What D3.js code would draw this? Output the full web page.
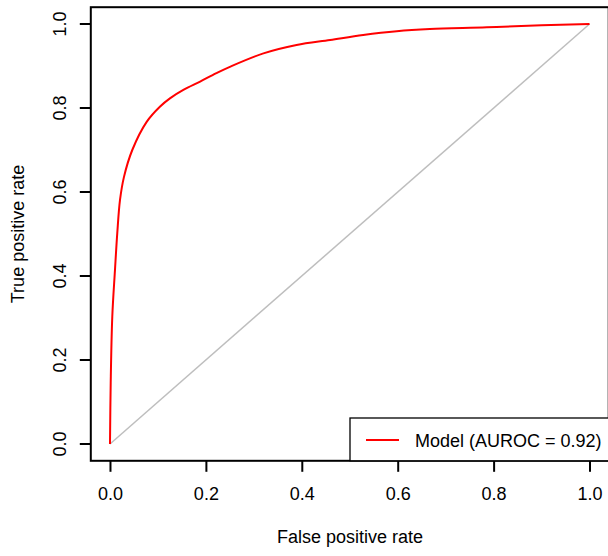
<!DOCTYPE html>
<html>
<head>
<meta charset="utf-8">
<script src="https://cdn.jsdelivr.net/npm/d3@7"></script>
<style>
  body { margin: 0; background: #fff; }
  svg { display: block; font-family: "Liberation Sans", Arial, sans-serif; }
</style>
</head>
<body>
<svg id="chart" width="608" height="556"></svg>
<script>
// ROC curve points
const fpr = [0, 0.0015, 0.0048, 0.0104, 0.0152, 0.0209, 0.0292, 0.0465, 0.0765, 0.104,
  0.125, 0.153, 0.188, 0.222, 0.25, 0.32, 0.389, 0.459, 0.528, 0.598, 0.667, 0.786, 0.9, 1];
const tpr = [0, 0.145, 0.303, 0.414, 0.502, 0.581, 0.636, 0.700, 0.767, 0.803,
  0.823, 0.843, 0.863, 0.883, 0.898, 0.930, 0.950, 0.962, 0.974, 0.983, 0.988, 0.992, 0.997, 1];
const ticks = [0, 0.2, 0.4, 0.6, 0.8, 1.0];
const legendLabel = 'Model (AUROC = 0.92)';

const svg = d3.select('#chart');
const FONT = 18;

// R-style 4% padding round the data range
const x = d3.scaleLinear().domain([-0.04, 1.04]).range([90.8, 608.7]);
const y = d3.scaleLinear().domain([-0.04, 1.04]).range([460.8, 7.2]);

// diagonal reference line
svg.append('line')
  .attr('x1', x(0)).attr('y1', y(0))
  .attr('x2', x(1)).attr('y2', y(1))
  .attr('stroke', '#bebebe')
  .attr('stroke-width', 1.5);

// ROC curve
const pts = fpr.map((d, i) => [d, tpr[i]]);
svg.append('path')
  .datum(pts)
  .attr('fill', 'none')
  .attr('stroke', '#ff0000')
  .attr('stroke-width', 2)
  .attr('d', d3.line().x(d => x(d[0])).y(d => y(d[1])).curve(d3.curveCatmullRom.alpha(0.5)));

// axes
const xAxis = svg.append('g')
  .attr('transform', `translate(0,${y(-0.04)})`)
  .call(d3.axisBottom(x).tickValues(ticks).tickFormat(d3.format('.1f')).tickSize(11).tickPadding(15));
const yAxis = svg.append('g')
  .attr('transform', `translate(${x(-0.04)},0)`)
  .call(d3.axisLeft(y).tickValues(ticks).tickFormat(d3.format('.1f')).tickSize(11).tickPadding(0));

[xAxis, yAxis].forEach(g => {
  g.select('.domain').remove();
  g.selectAll('line').attr('stroke', '#000').attr('stroke-width', 2);
  g.selectAll('text').attr('font-size', FONT).attr('fill', '#000')
    .style('font-family', '"Liberation Sans", Arial, sans-serif');
});

yAxis.selectAll('text')
  .attr('transform', 'rotate(-90)')
  .attr('x', d => -y(d))
  .attr('y', -25)
  .attr('dy', '0')
  .attr('text-anchor', 'middle');
yAxis.selectAll('.tick').attr('transform', null);
yAxis.selectAll('.tick line')
  .attr('y1', d => y(d)).attr('y2', d => y(d));

// plot box
svg.append('rect')
  .attr('x', x(-0.04)).attr('y', y(1.04))
  .attr('width', x(1.04) - x(-0.04))
  .attr('height', y(-0.04) - y(1.04))
  .attr('fill', 'none')
  .attr('stroke', '#000')
  .attr('stroke-width', 2);

// legend
const lg = svg.append('g');
lg.append('rect')
  .attr('x', 350).attr('y', 418)
  .attr('width', 280).attr('height', y(-0.04) - 418)
  .attr('fill', '#fff')
  .attr('stroke', '#000')
  .attr('stroke-width', 1.3);
lg.append('line')
  .attr('x1', 366).attr('x2', 399)
  .attr('y1', 440).attr('y2', 440)
  .attr('stroke', '#ff0000').attr('stroke-width', 2);
lg.append('text')
  .attr('x', 415).attr('y', 446.5)
  .attr('font-size', FONT)
  .text(legendLabel);

// axis titles
svg.append('text')
  .attr('x', 350).attr('y', 543)
  .attr('text-anchor', 'middle')
  .attr('font-size', FONT)
  .text('False positive rate');
svg.append('text')
  .attr('transform', 'translate(24,234) rotate(-90)')
  .attr('text-anchor', 'middle')
  .attr('font-size', FONT)
  .text('True positive rate');
</script>
</body>
</html>
